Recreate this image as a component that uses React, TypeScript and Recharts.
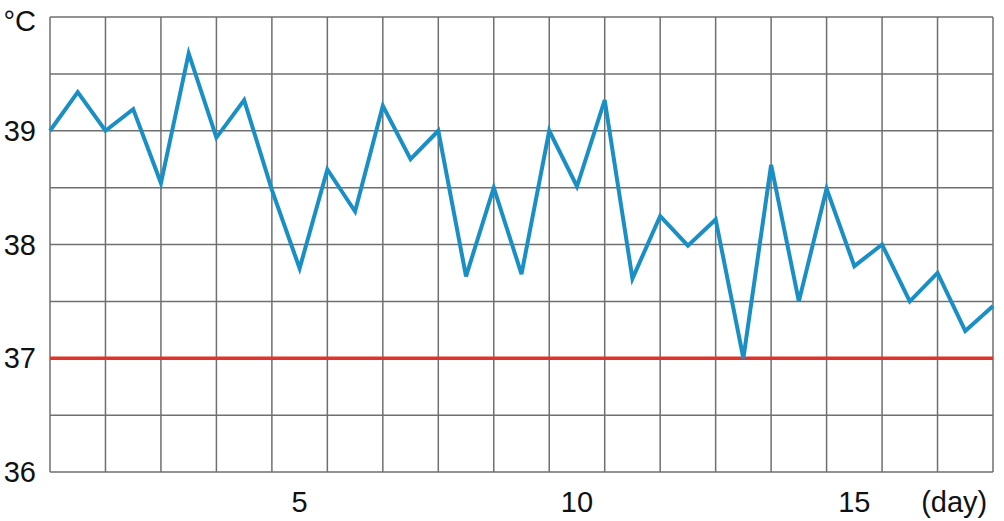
import { LineChart, Line, XAxis, YAxis, CartesianGrid, ReferenceLine } from 'recharts';

// body temperature, two readings per day
const temps = [
  39.0, 39.34, 39.0, 39.19, 38.54, 39.68, 38.94, 39.27, 38.48, 37.79, 38.66, 38.29,
  39.22, 38.75, 39.0, 37.72, 38.5, 37.74, 39.0, 38.51, 39.27, 37.7, 38.25, 37.99,
  38.22, 37.0, 38.7, 37.5, 38.49, 37.81, 38.0, 37.5, 37.75, 37.24, 37.46,
];
const dayTicks = [0, 1, 2, 3, 4, 5, 6, 7, 8, 9, 10, 11, 12, 13, 14, 15, 16, 17];
const dayLabels = [
  { pos: 4.5, text: '5' },
  { pos: 9.5, text: '10' },
  { pos: 14.5, text: '15' },
  { pos: 16.3, text: '(day)' },
];
const tempTicks = [36, 36.5, 37, 37.5, 38, 38.5, 39, 39.5, 40];
const feverLine = 37;

const data = temps.map((t, i) => ({ day: i * 0.5, temp: t }));

const FONT = '"Liberation Sans", Arial, sans-serif';

const YTick = ({ x, y, payload }: any) => {
  const v = payload.value;
  let label = '';
  if (v === 40) label = '°C';
  else if (Number.isInteger(v)) label = String(v);
  if (!label) return <g />;
  return (
    <text x={x} y={y + (v === 40 ? 4 : 0)} textAnchor="end" dominantBaseline="central" fontSize={29} fill="#111" fontFamily={FONT}>
      {label}
    </text>
  );
};

const XTick = ({ x, y, payload }: any) => {
  const item = dayLabels.find(d => d.pos === payload.value);
  return (
    <text x={x} y={y + 32} textAnchor="middle" fontSize={29} fill="#111" fontFamily={FONT}>
      {item ? item.text : ''}
    </text>
  );
};

const NoTick = () => <g />;

export default function App() {
  return (
    <div style={{ position: 'absolute', left: 0, top: 0, background: '#fff' }}>
      <LineChart width={1004} height={521} data={data} margin={{ top: 17, right: 11, bottom: 0, left: 0 }}>
        <CartesianGrid stroke="#6f6f6f" strokeWidth={1.5} />
        <XAxis
          dataKey="day"
          type="number"
          domain={[0, 17]}
          ticks={dayTicks}
          tick={<NoTick />}
          axisLine={false}
          tickLine={false}
          height={0}
        />
        <XAxis
          xAxisId="lab"
          dataKey="day"
          type="number"
          domain={[0, 17]}
          ticks={dayLabels.map(d => d.pos)}
          tick={<XTick />}
          axisLine={false}
          tickLine={false}
          height={49}
        />
        <YAxis
          type="number"
          domain={[36, 40]}
          ticks={tempTicks}
          tick={<YTick />}
          axisLine={false}
          tickLine={false}
          tickSize={12}
          tickMargin={2}
          width={50}
        />
        <ReferenceLine y={feverLine} stroke="#e0332b" strokeWidth={3.5} />
        <Line
          type="linear"
          dataKey="temp"
          stroke="#1a8fc6"
          strokeWidth={4}
          dot={false}
          isAnimationActive={false}
        />
      </LineChart>
    </div>
  );
}
